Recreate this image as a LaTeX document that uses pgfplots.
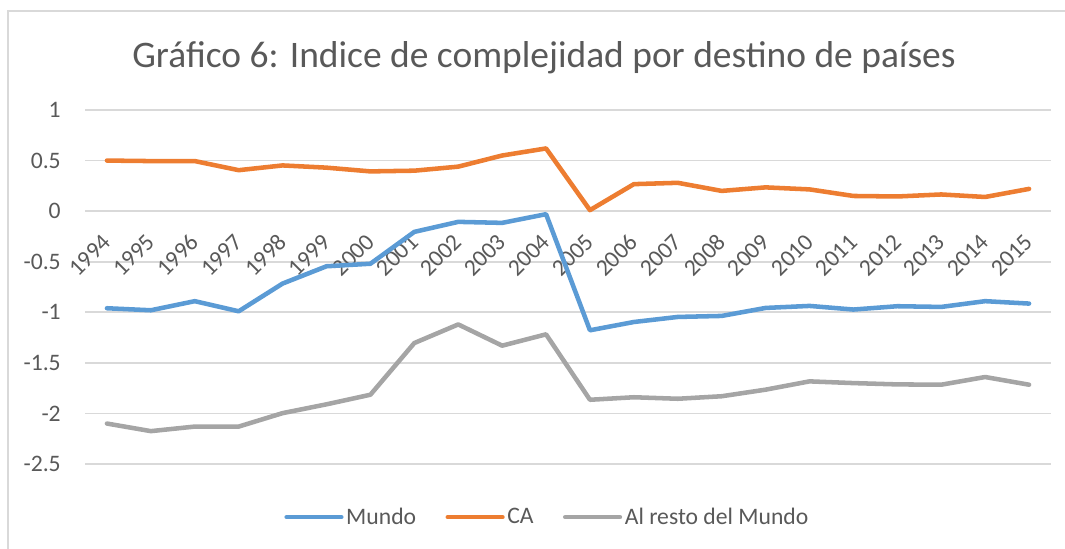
\documentclass[border=0pt]{standalone}
\usepackage{fontspec}
\setmainfont{Carlito}
\usepackage{pgfplots}
\usepackage{pgfplotstable}
\pgfplotsset{compat=1.18}
\definecolor{mundo}{HTML}{5B9BD5}
\definecolor{ca}{HTML}{ED7D31}
\definecolor{resto}{HTML}{A5A5A5}
\definecolor{txt}{HTML}{595959}
\definecolor{grd}{HTML}{D9D9D9}
\def\px{0.75bp}

% indice por destino, 1994 = 0 ... 2015 = 21
\pgfplotstableread{
yr mundo ca resto
0 -0.96 0.50 -2.10
1 -0.98 0.495 -2.175
2 -0.89 0.495 -2.13
3 -0.99 0.405 -2.13
4 -0.716 0.452 -1.997
5 -0.545 0.43 -1.91
6 -0.52 0.393 -1.815
7 -0.205 0.40 -1.304
8 -0.106 0.44 -1.12
9 -0.116 0.55 -1.33
10 -0.03 0.62 -1.218
11 -1.178 0.01 -1.865
12 -1.096 0.267 -1.84
13 -1.046 0.28 -1.855
14 -1.036 0.20 -1.83
15 -0.957 0.235 -1.765
16 -0.937 0.215 -1.683
17 -0.973 0.15 -1.70
18 -0.94 0.145 -1.713
19 -0.947 0.165 -1.716
20 -0.89 0.14 -1.64
21 -0.914 0.22 -1.716
}\datos

\begin{document}
\begin{tikzpicture}
\useasboundingbox (0,0) rectangle (1065*\px,548*\px);
\clip (0,0) rectangle (1065*\px,548*\px);
\draw[grd, line width=1.5*\px] (8*\px,-20*\px) -- (8*\px,537*\px) -- (1100*\px,537*\px);
\node[txt, font=\fontsize{28.2}{33}\selectfont, anchor=base] at (544*\px,480*\px)
  {Gráfico 6: Indice de complejidad por destino de países};
\begin{axis}[
  at={(85*\px,84*\px)}, anchor=south west,
  width=724.5bp, height=265.5bp, scale only axis,
  xmin=-0.5, xmax=21.5, ymin=-2.5, ymax=1,
  axis line style={draw=none},
  major tick length=0pt,
  xtick={0,...,21},
  xticklabels={1994,1995,1996,1997,1998,1999,2000,2001,2002,2003,2004,2005,2006,2007,2008,2009,2010,2011,2012,2013,2014,2015},
  ytick={-2.5,-2,-1.5,-1,-0.5,0,0.5,1},
  yticklabels={-2.5,-2,-1.5,-1,-0.5,0,0.5,1},
  ymajorgrids, grid style={grd, line width=1.3bp},
  tick label style={text=txt, font=\fontsize{17.8}{21}\selectfont},
  xticklabel style={rotate=45, anchor=east, inner sep=0pt},
  xticklabel shift=-169.5bp,
  yticklabel style={anchor=east, inner sep=0pt, xshift=-18bp},
  legend columns=3,
  legend style={at={(0.479,-0.150)}, anchor=center, draw=none, fill=none,
    text=txt, font=\fontsize{17.8}{21}\selectfont,
    /tikz/every even column/.append style={column sep=20bp}},
  legend image code/.code={\draw[#1] (0bp,0bp) -- (41bp,0bp);},
  every axis plot/.append style={line width=3.4bp, line join=round, line cap=round},
]
\addplot[mundo] table[x=yr, y=mundo] {\datos};
\addplot[ca] table[x=yr, y=ca] {\datos};
\addplot[resto] table[x=yr, y=resto] {\datos};
\legend{Mundo, CA, Al resto del Mundo}
\end{axis}
\end{tikzpicture}
\end{document}
